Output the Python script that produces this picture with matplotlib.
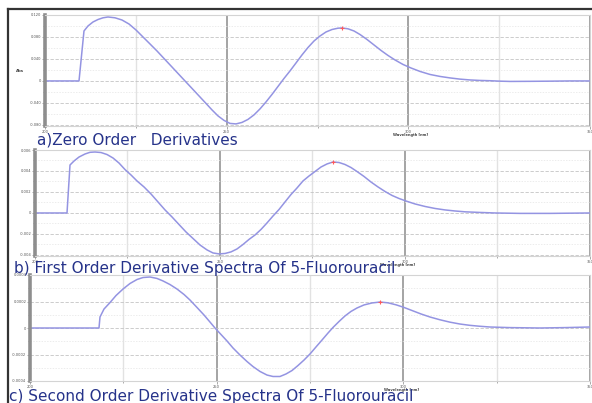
import matplotlib
matplotlib.use("Agg")
import matplotlib.pyplot as plt
from matplotlib.lines import Line2D

# ---------------- data ----------------
wl_a = [200.00, 209.36, 210.73, 211.83, 213.21, 214.59, 215.96, 217.34,
        219.27, 221.19, 223.12, 225.05, 226.97, 228.90, 230.83, 232.75, 234.68, 236.61,
        238.53, 240.46, 242.39, 244.31, 245.96, 247.61, 249.27, 250.92, 252.57, 254.22,
        255.87, 257.52, 259.17, 260.83, 262.48, 264.13, 265.78, 267.43, 269.08, 270.73,
        272.39, 274.04, 275.69, 277.34, 278.99, 280.64, 281.74, 283.39, 285.05, 286.70,
        288.62, 290.55, 292.48, 294.40, 296.33, 298.53, 300.73, 303.21, 305.96, 308.72,
        311.47, 314.22, 316.97, 319.72, 322.48, 325.23, 327.98, 333.49, 338.99, 344.50, 350.00]
abs_a = [0.0, 0.0, 0.0909, 0.1000, 0.1073, 0.1118, 0.1149, 0.1164,
         0.1149, 0.1109, 0.1036, 0.0927, 0.0800, 0.0673, 0.0545, 0.0409, 0.0273, 0.0136,
         0.0, -0.0136, -0.0273, -0.0409, -0.0527, -0.0636, -0.0718, -0.0773, -0.0782, -0.0755,
         -0.0700, -0.0618, -0.0509, -0.0382, -0.0245, -0.0100, 0.0045, 0.0182, 0.0327, 0.0473,
         0.0609, 0.0727, 0.0818, 0.0891, 0.0936, 0.0960, 0.0964, 0.0949, 0.0909, 0.0845,
         0.0755, 0.0655, 0.0555, 0.0464, 0.0382, 0.0300, 0.0236, 0.0173, 0.0118, 0.0082,
         0.0055, 0.0033, 0.0018, 0.0009, 0.0004, -0.0004, -0.0009, -0.0007, -0.0004, 0.0, 0.0]

wl_b = [200.00, 208.65, 209.46, 210.54, 211.89, 213.51, 214.86, 216.22,
        217.84, 219.46, 221.08, 222.70, 224.32, 225.95, 227.57, 229.46, 231.35, 233.24,
        235.14, 237.03, 238.92, 240.81, 242.70, 244.59, 246.49, 248.11, 249.73, 251.35,
        252.97, 254.59, 256.22, 257.84, 259.46, 261.08, 262.70, 264.32, 265.95, 267.57,
        269.19, 270.81, 272.43, 274.05, 275.68, 277.30, 278.92, 280.54, 282.16, 283.78,
        285.41, 287.03, 288.92, 290.81, 292.70, 294.59, 296.49, 298.38, 300.27, 302.70,
        305.41, 308.11, 310.81, 313.51, 316.22, 320.27, 324.32, 331.08, 339.19, 344.59, 350.00]
d1_b = [0.0, 0.0, 0.00457, 0.00495, 0.00533, 0.00562, 0.00578, 0.00581,
        0.00576, 0.00557, 0.00524, 0.00476, 0.00414, 0.00362, 0.00305, 0.00248, 0.00181, 0.00105,
        0.00029, -0.00038, -0.00110, -0.00181, -0.00243, -0.00305, -0.00352, -0.00381, -0.00390, -0.00386,
        -0.00371, -0.00343, -0.00300, -0.00252, -0.00210, -0.00157, -0.00095, -0.00029, 0.00033, 0.00105,
        0.00176, 0.00238, 0.00305, 0.00352, 0.00395, 0.00438, 0.00467, 0.00486, 0.00481, 0.00462,
        0.00433, 0.00395, 0.00348, 0.00295, 0.00248, 0.00205, 0.00167, 0.00138, 0.00114, 0.00086,
        0.00062, 0.00043, 0.00029, 0.00019, 0.00011, 0.00005, 0.0, -0.00004, -0.00004, -0.00002, 0.0]

wl_c = [200.00, 218.48, 218.75, 219.82, 221.43, 223.04, 224.91, 226.79, 228.66, 230.27,
        232.14, 234.02, 235.63, 237.50, 239.38, 241.25, 242.86, 244.73, 246.61, 248.21,
        249.55, 251.16, 252.77, 254.38, 256.25, 258.13, 259.73, 261.61, 263.48, 265.09,
        266.96, 268.57, 270.18, 271.79, 273.39, 275.00, 276.61, 278.21, 279.82, 281.16,
        282.77, 284.38, 285.98, 287.59, 289.46, 291.61, 293.75, 295.89, 298.04, 299.91,
        302.32, 304.73, 307.14, 309.82, 312.50, 315.18, 317.86, 320.54, 323.21, 328.57,
        336.61, 343.30, 350.00]
d2_c = [0.0, 0.0, 0.000083, 0.000143, 0.000192, 0.000245, 0.000294, 0.000336, 0.000366, 0.000381,
        0.000385, 0.000374, 0.000355, 0.000328, 0.000294, 0.000253, 0.000211, 0.000155, 0.000098, 0.000045,
        0.0, -0.000049, -0.000098, -0.000151, -0.000204, -0.000253, -0.000291, -0.000328, -0.000355, -0.000366,
        -0.000366, -0.000347, -0.000321, -0.000283, -0.000242, -0.000196, -0.000143, -0.000091, -0.000038, 0.000004,
        0.000049, 0.000091, 0.000125, 0.000151, 0.000174, 0.000189, 0.000196, 0.000190, 0.000175, 0.000158,
        0.000132, 0.000106, 0.000083, 0.000062, 0.000044, 0.000030, 0.000020, 0.000013, 0.0000075, 0.000003,
        0.0, 0.000003, 0.0000075]

peak_a = (281.74, 0.0964)
peak_b = (280.54, 0.00486)
peak_c = (293.75, 0.000196)

x_ticks = [200, 250, 300, 350]
x_tick_labels = ["200", "250", "300", "350"]
yt_a = [-0.08, -0.04, 0.0, 0.04, 0.08, 0.12]
yl_a = ["-0.080", "-0.040", "0", "0.040", "0.080", "0.120"]
yt_b = [-0.004, -0.002, 0.0, 0.002, 0.004, 0.006]
yl_b = ["-0.004", "-0.002", "0", "0.002", "0.004", "0.006"]
yt_c = [-0.0004, -0.0002, 0.0, 0.0002, 0.0004]
yl_c = ["-0.0004", "-0.0002", "0", "0.0002", "0.0004"]

captions = ["a)Zero Order   Derivatives",
            "b) First Order Derivative Spectra Of 5-Fluorouracil",
            "c) Second Order Derivative Spectra Of 5-Fluorouracil"]
xlabel = "Wavelength [nm]"

# ---------------- figure ----------------
W, H = 592, 403
fig = plt.figure(figsize=(W / 100, H / 100), dpi=100)
fig.patch.set_facecolor("white")


def rect(l, r, t, b):
    return [l / W, 1 - b / H, (r - l) / W, (b - t) / H]


line_col = "#9494e2"
cap_col = "#26338a"


def style(ax, ylim, yt, yl, xlab_frac):
    ax.set_xlim(200, 350)
    ax.set_ylim(*ylim)
    ax.set_xticks(x_ticks)
    ax.set_xticklabels(x_tick_labels)
    ax.set_xticks([225, 275, 325], minor=True)
    ax.set_yticks(yt)
    ax.set_yticklabels(yl)
    mids = [(yt[i] + yt[i + 1]) / 2 for i in range(len(yt) - 1)]
    ax.set_yticks(mids, minor=True)
    ax.grid(which="major", axis="x", color="#a4a4a4", lw=1.4)
    ax.grid(which="minor", axis="x", color="#e2e2e2", lw=1.0)
    ax.grid(which="major", axis="y", color="#c4c4c4", lw=0.6, ls=(0, (4, 2)))
    ax.grid(which="minor", axis="y", color="#e4e4e4", lw=0.5, ls=(0, (2, 2)))
    ax.set_axisbelow(True)
    ax.spines["left"].set_color("#8e8e8e")
    ax.spines["left"].set_linewidth(2.6)
    for s in ("right", "top", "bottom"):
        ax.spines[s].set_color("#d4d4d4")
        ax.spines[s].set_linewidth(0.8)
    ax.tick_params(which="both", labelsize=2.6, colors="#888888", labelcolor="#555555",
                   length=2, width=0.5, pad=0.6)
    ax.tick_params(which="minor", length=1.2)
    ax.text(xlab_frac, -0.062, xlabel, transform=ax.transAxes, fontsize=2.6,
            color="#444444", ha="center", va="top", fontweight="bold")


ax_a = fig.add_axes(rect(45, 590, 15, 126))
ax_a.plot(wl_a, abs_a, color=line_col, lw=1.1)
ax_a.plot(*peak_a, marker="+", color="#ff5a5a", ms=3, mew=0.8)
style(ax_a, (-0.082, 0.12), yt_a, yl_a, 0.67)
fig.text(20 / W, 1 - 71 / H, "Abs", fontsize=2.8, color="#444444", ha="center", va="center",
         fontweight="bold")

ax_b = fig.add_axes(rect(35, 590, 150, 256))
ax_b.plot(wl_b, d1_b, color=line_col, lw=1.1)
ax_b.plot(*peak_b, marker="+", color="#ff5a5a", ms=3, mew=0.8)
style(ax_b, (-0.0041, 0.006), yt_b, yl_b, 0.654)

ax_c = fig.add_axes(rect(30, 590, 275, 381))
ax_c.plot(wl_c, d2_c, color=line_col, lw=1.1)
ax_c.plot(*peak_c, marker="+", color="#ff5a5a", ms=3, mew=0.8)
style(ax_c, (-0.0004, 0.0004), yt_c, yl_c, 0.664)

# captions
fig.text(37 / W, 1 - 140 / H, captions[0], fontsize=11, color=cap_col, ha="left", va="center")
fig.text(14 / W, 1 - 269 / H, captions[1], fontsize=11, color=cap_col, ha="left", va="center")
fig.text(9 / W, 1 - 396 / H, captions[2], fontsize=11, color=cap_col, ha="left", va="center")

# outer frame
fig.add_artist(Line2D([8 / W, 8 / W], [0, 1 - 9 / H], transform=fig.transFigure,
                      color="#333333", lw=1.6))
fig.add_artist(Line2D([8 / W, 1], [1 - 9 / H, 1 - 9 / H], transform=fig.transFigure,
                      color="#333333", lw=1.6))

fig.savefig("out.png", dpi=100, facecolor="white")
